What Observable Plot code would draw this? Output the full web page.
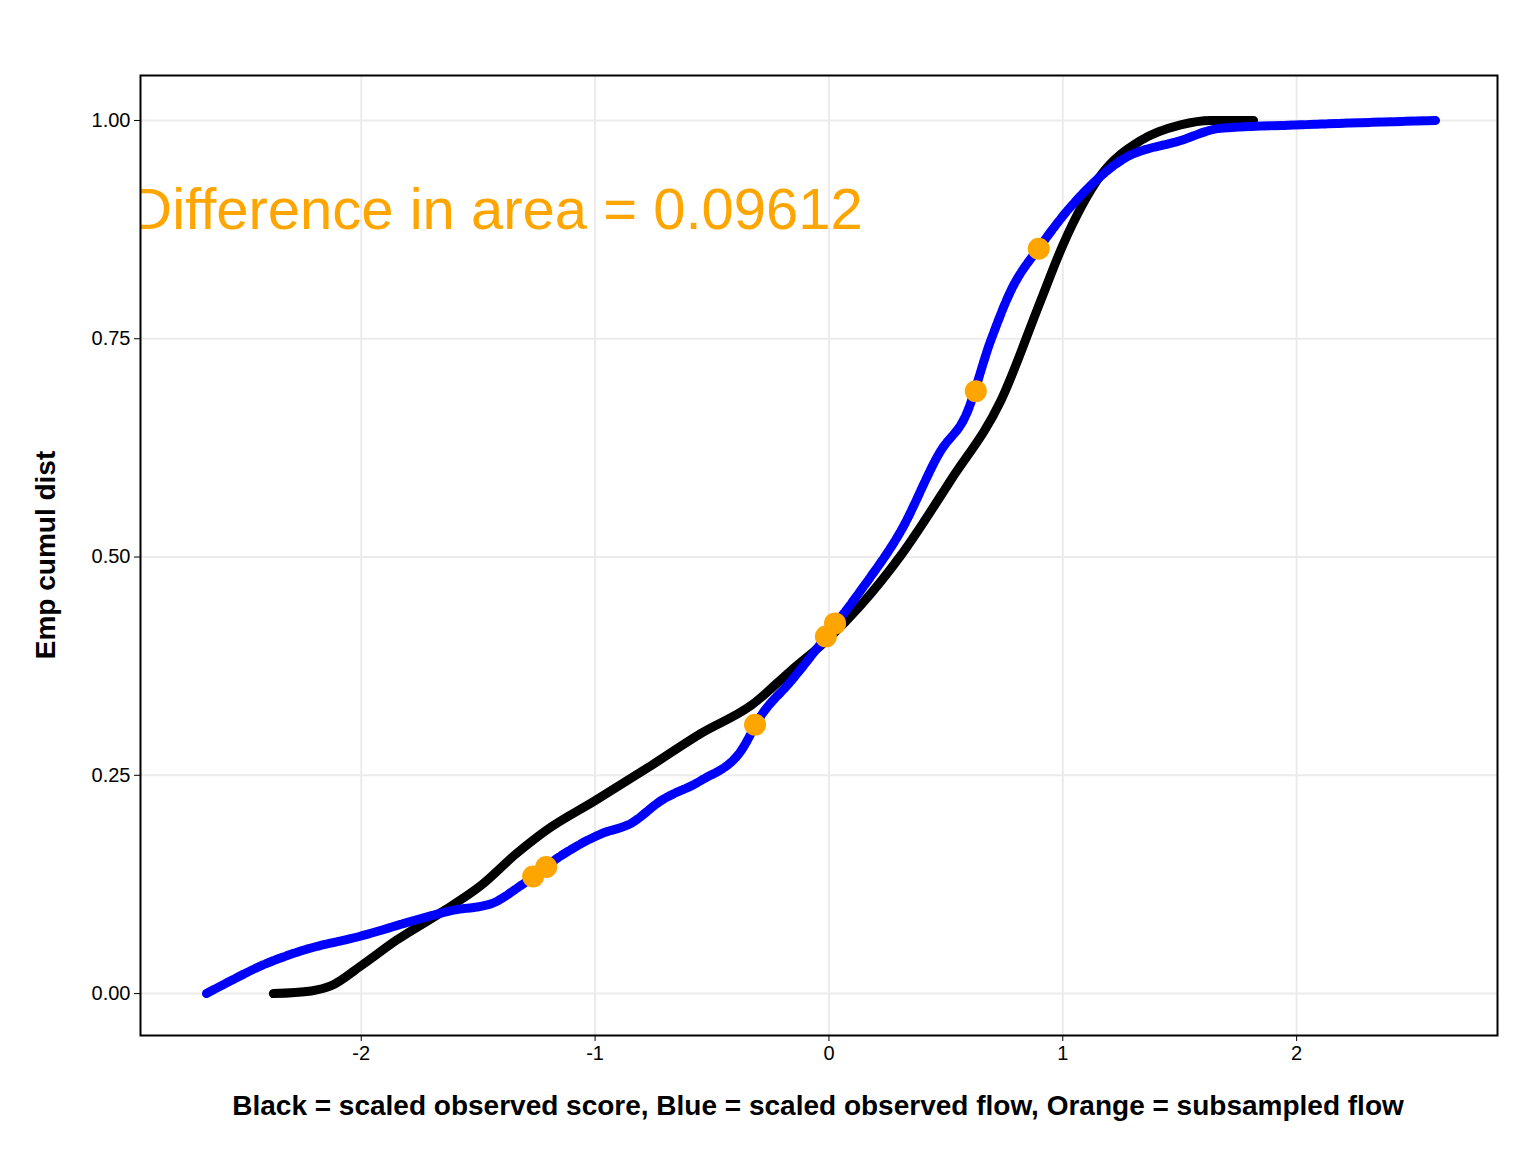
<!DOCTYPE html>
<html><head>
<script src="https://cdn.jsdelivr.net/npm/d3@7"></script>
<script src="https://cdn.jsdelivr.net/npm/@observablehq/plot@0.6"></script>
<style>body{margin:0;background:#fff}</style>
</head><body><div id="chart"></div>
<script>
const blackX = [-2.376,-2.214,-2.128,-2.0,-1.85,-1.658,-1.487,-1.338,-1.209,-1.0,-0.761,-0.547,-0.333,-0.162,0,0.137,0.308,0.521,0.735,0.906,1.0,1.162,1.333,1.504,1.632,1.816]
const blackY = [0,0.003,0.009,0.032,0.061,0.093,0.124,0.160,0.187,0.221,0.261,0.298,0.330,0.370,0.407,0.445,0.502,0.588,0.679,0.794,0.857,0.937,0.977,0.995,1.0,1.0]
const blueX = [-2.662,-2.556,-2.427,-2.256,-2.0,-1.744,-1.615,-1.444,-1.316,-1.145,-0.974,-0.846,-0.718,-0.547,-0.376,-0.291,-0.162,0,0.137,0.308,0.479,0.585,0.692,0.778,0.906,1.077,1.248,1.504,1.675,2.017,2.594]
const blueY = [0,0.015,0.032,0.049,0.066,0.086,0.095,0.103,0.124,0.158,0.183,0.195,0.221,0.244,0.278,0.318,0.358,0.413,0.462,0.530,0.622,0.662,0.748,0.805,0.857,0.914,0.954,0.977,0.991,0.995,1.0]
const orangeX = [-1.265,-1.209,-0.316,-0.013,0.026,0.628,0.897]
const orangeY = [0.134,0.145,0.308,0.409,0.424,0.690,0.853]
const xTicks = [-2,-1,0,1,2]
const yTicks = [0,0.25,0.5,0.75,1]
const label = "Difference in area = 0.09612"

const black = blackX.map((x,i)=>({x, y: blackY[i]}))
const blue = blueX.map((x,i)=>({x, y: blueY[i]}))
const orange = orangeX.map((x,i)=>({x, y: orangeY[i]}))

const chart = Plot.plot({
  width: 1536, height: 1152,
  marginLeft: 140, marginRight: 39, marginTop: 75, marginBottom: 117,
  x: {domain: [-2.944, 2.859], ticks: xTicks, tickFormat: d => d3.format("d")(d).replace("−","-"), label: null},
  y: {domain: [-0.048, 1.0515], ticks: yTicks, tickFormat: d3.format(".2f"), label: null},
  style: {fontFamily: "Liberation Sans, Arial, sans-serif", fontSize: "20px", color: "#000", background: "#fff"},
  marks: [
    Plot.gridX(xTicks, {stroke: "#ebebeb", strokeOpacity: 1, strokeWidth: 2}),
    Plot.gridY(yTicks, {stroke: "#ebebeb", strokeOpacity: 1, strokeWidth: 2}),
    Plot.axisX(xTicks, {tickSize: 6, fontSize: 20, tickPadding: 4, tickFormat: d => String(d)}),
    Plot.axisY(yTicks, {tickSize: 6, fontSize: 20, tickPadding: 4, tickFormat: d3.format(".2f")}),
    Plot.lineY(black, {x: "x", y: "y", stroke: "black", strokeWidth: 9, curve: "monotone-x"}),
    Plot.lineY(blue, {x: "x", y: "y", stroke: "#0000ff", strokeWidth: 9, strokeDasharray: "9,2", curve: "monotone-x"}),
    Plot.dot(orange, {x: "x", y: "y", r: 11, fill: "orange", stroke: "none"}),
    Plot.text([label], {x: 0.145, y: 0.897, text: d => d, textAnchor: "end", fontSize: 58, fill: "orange", clip: true}),
    Plot.frame({stroke: "black", strokeWidth: 2})
  ]
})
const svg = d3.select(chart)
svg.append("text").attr("x", 818).attr("y", 1115).attr("text-anchor", "middle")
  .attr("font-size", 28).attr("font-weight", "bold").text("Black = scaled observed score, Blue = scaled observed flow, Orange = subsampled flow")
svg.append("text").attr("transform", "translate(55,555) rotate(-90)").attr("text-anchor", "middle")
  .attr("font-size", 28).attr("font-weight", "bold").text("Emp cumul dist")
d3.select("#chart").append(() => chart)
</script>
</body></html>
